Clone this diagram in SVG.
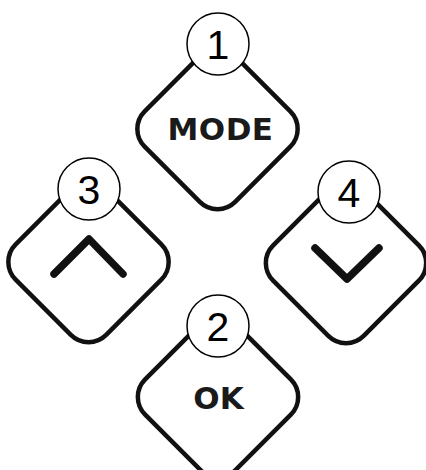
<svg xmlns="http://www.w3.org/2000/svg" width="426" height="470" viewBox="0 0 426 470">
<style>
.btn{fill:#fff;stroke:#111;stroke-width:4.5}
.chev{fill:none;stroke:#111;stroke-width:7.5;stroke-linecap:round;stroke-linejoin:round}
.lbl{font-family:"DejaVu Sans",sans-serif;font-weight:bold;font-size:31px;fill:#1a1a1a;text-anchor:middle}
.badge{fill:#fff;stroke:#000;stroke-width:1.5}
.num{font-family:"Liberation Sans",Arial,sans-serif;font-size:41px;fill:#000;text-anchor:middle}
</style>
<rect width="426" height="470" fill="#fff"/>
<g id="btn-mode">
<rect class="btn" x="-64" y="-64" width="128" height="128" rx="25" transform="translate(217.5 129) rotate(45)"/>
<text class="lbl" x="220.5" y="140" letter-spacing="0.5">MODE</text>
</g>
<g id="btn-up">
<rect class="btn" x="-64" y="-64" width="128" height="128" rx="25" transform="translate(88.5 262) rotate(45)"/>
<polyline class="chev" points="54,274 89,239 123,274"/>
</g>
<g id="btn-down">
<rect class="btn" x="-64" y="-64" width="128" height="128" rx="25" transform="translate(346 263) rotate(45)"/>
<polyline class="chev" points="315,248 347,279 379,248"/>
</g>
<g id="btn-ok">
<rect class="btn" x="-64" y="-64" width="128" height="128" rx="25" transform="translate(218 397) rotate(45)"/>
<text class="lbl" x="218.5" y="408.5">OK</text>
</g>
<g id="connectors"></g>
<g id="badge-1"><circle class="badge" cx="218" cy="44" r="31"/><text class="num" x="218" y="59">1</text></g>
<g id="badge-3"><circle class="badge" cx="89" cy="189" r="31"/><text class="num" x="89" y="204">3</text></g>
<g id="badge-4"><circle class="badge" cx="349" cy="192" r="31"/><text class="num" x="349" y="207">4</text></g>
<g id="badge-2"><circle class="badge" cx="218" cy="326" r="31"/><text class="num" x="218" y="341">2</text></g>
</svg>
